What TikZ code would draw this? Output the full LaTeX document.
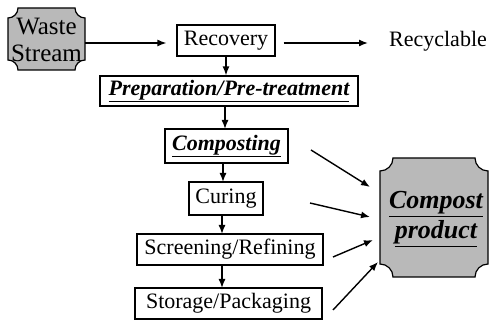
\documentclass[tikz,border=0pt]{standalone}
\usepackage{fontspec}
\setmainfont{Liberation Serif}
\usetikzlibrary{arrows.meta}

\tikzset{
  box/.style={draw, line width=1.2pt, inner sep=0pt, font=\fontsize{22}{24}\selectfont},
  boxbi/.style={box, font=\fontsize{22}{24}\selectfont\bfseries\itshape},
  arr/.style={->, line width=1.4pt},
  plaque/.style={draw, line width=1.2pt, fill=gray!55}
}

\begin{document}
\begin{tikzpicture}[x=1pt, y=1pt, >={Latex[length=9pt,width=7pt]}]
  \useasboundingbox (0,0) rectangle (490,320);

  % Waste stream plaque
  \filldraw[plaque] (18,312) -- (75,312) arc[start angle=180, end angle=270, radius=10pt]
    -- (85,260) arc[start angle=90, end angle=180, radius=10pt]
    -- (18,250) arc[start angle=0, end angle=90, radius=10pt]
    -- (8,302) arc[start angle=270, end angle=360, radius=10pt] -- cycle;
  \node[inner sep=0pt, minimum width=77pt, minimum height=62pt, align=center,
        font=\fontsize{25}{27}\selectfont] (ws) at (46.5,280) {Waste\\Stream};

  % Compost product plaque
  \filldraw[plaque] (393,162) -- (475,162) arc[start angle=180, end angle=270, radius=13pt]
    -- (488,56) arc[start angle=90, end angle=180, radius=13pt]
    -- (393,43) arc[start angle=0, end angle=90, radius=13pt]
    -- (380,149) arc[start angle=270, end angle=360, radius=13pt] -- cycle;
  \node[align=center, inner sep=0pt, font=\fontsize{26}{30}\selectfont\bfseries\itshape]
    (cp) at (436,101) {\underline{Compost}\\\underline{product}};

  % Process chain
  \node[box, minimum width=98pt, minimum height=31pt] (rec) at (226,279.5) {Recovery};
  \node[font=\fontsize{22}{24}\selectfont] (recy) at (438,279) {Recyclable};
  \node[boxbi, minimum width=258pt, minimum height=30pt] (prep) at (229,229) {\underline{Preparation/Pre-treatment}};
  \node[boxbi, minimum width=123pt, minimum height=34pt] (comp) at (226.5,174) {\underline{Composting}};
  \node[box, minimum width=74pt, minimum height=33pt] (cur) at (226,121.5) {Curing};
  \node[box, minimum width=186pt, minimum height=31pt] (scr) at (230,70.5) {Screening/Refining};
  \node[box, minimum width=187pt, minimum height=31pt] (sto) at (228.5,16.5) {Storage/Packaging};

  % Horizontal arrows
  \draw[arr, shorten >=10pt] (ws.east |- 0,277) -- (rec.west |- 0,277);
  \draw[arr, shorten <=8pt] (rec.east |- 0,277) -- (368,277);

  % Vertical arrows
  \draw[arr] (rec.south) -- (rec.south |- prep.north);
  \draw[arr] (225,213.5) -- (225,191);
  \draw[arr] (223,157) -- (223,138);
  \draw[arr] (222,105) -- (222,86);
  \draw[arr] (222,55) -- (222,32);

  % Arrows into the compost product
  \coordinate (s1) at (311,170);
  \coordinate (s2) at (310,117);
  \coordinate (s3) at (333,63);
  \coordinate (s4) at (333,10);
  \coordinate (t1) at (370,133);
  \coordinate (t2) at (370,103);
  \coordinate (t3) at (373,80);
  \coordinate (t4) at (378,58);
  \foreach \i in {1,...,4}
    \draw[arr] (s\i) -- (t\i);
\end{tikzpicture}
\end{document}
